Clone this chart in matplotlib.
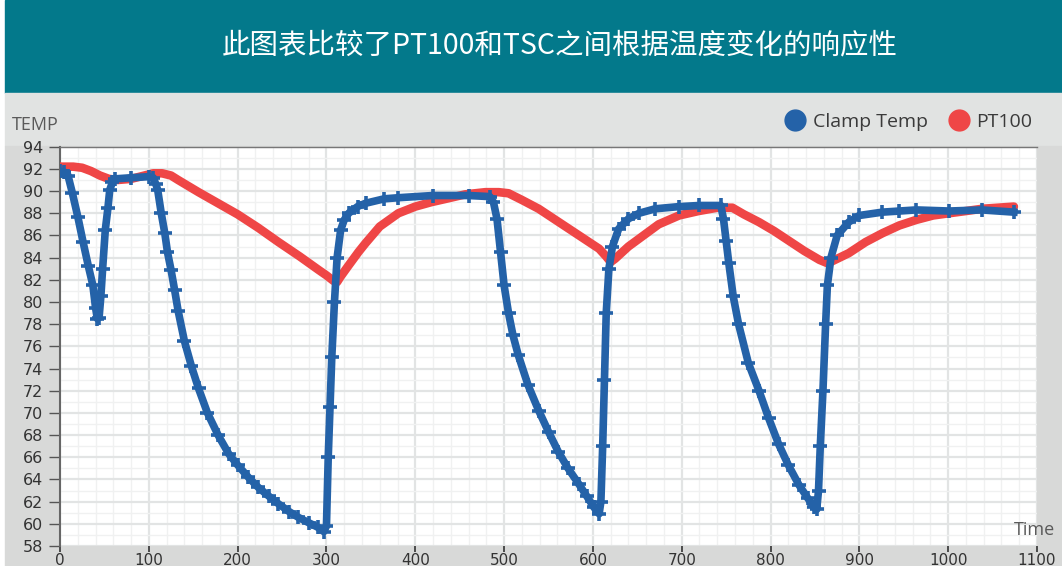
import matplotlib
matplotlib.use("Agg")
import matplotlib.pyplot as plt
from matplotlib.patches import Rectangle
from matplotlib.lines import Line2D
import matplotlib.ticker as ticker

# Clamp Temp (TSC) readings
clamp_t = [0, 5, 9, 14, 20, 26, 32, 37, 40, 42, 44, 46, 48, 51, 54, 56, 59, 62, 80, 100,
           105, 108, 110, 114, 118, 121, 125, 129, 133, 140, 148, 156, 166, 178, 190, 200,
           212, 223, 235, 246, 258, 268, 280, 290, 297, 300, 302, 304, 306, 309, 312, 316,
           320, 325, 335, 344, 365, 381, 420, 460, 484, 488, 492, 496, 500, 505, 510, 516,
           527, 539, 550, 561, 572, 584, 593, 601, 607, 609, 611, 613, 615, 618, 622, 629,
           640, 652, 670, 697, 720, 744, 747, 750, 753, 758, 764, 775, 787, 798, 809, 820,
           832, 842, 849, 852, 854, 856, 859, 862, 864, 868, 875, 888, 900, 926, 945, 964,
           1001, 1038, 1074]
clamp_v = [91.8, 91.7, 91.4, 89.8, 87.7, 85.4, 83.2, 81.5, 79.5, 78.5, 78.6, 80.5, 83.0, 86.5,
           88.5, 90.1, 90.8, 91.1, 91.2, 91.3,
           91.2, 90.6, 90.1, 88.0, 86.2, 84.5, 82.9, 81.1, 79.2, 76.5, 74.2, 72.2, 70.0, 68.0,
           66.3, 65.3, 64.2, 63.3, 62.5, 61.8, 61.1, 60.6, 60.1, 59.7, 59.3, 59.8, 66.0, 70.5,
           75.0, 80.0, 84.0, 86.5, 87.4, 88.0, 88.6, 88.9, 89.3, 89.4, 89.6, 89.6, 89.5, 89.0,
           87.5, 84.5, 81.5, 79.0, 77.0, 75.2, 72.5, 70.2, 68.3, 66.5, 65.0, 63.6, 62.5, 61.5,
           60.9, 62.0, 67.0, 73.0, 79.0, 83.0, 85.0, 86.6, 87.5, 88.0, 88.4, 88.6, 88.7, 88.7,
           87.5, 85.5, 83.5, 80.5, 78.0, 74.5, 72.0, 69.5, 67.2, 65.3, 63.5, 62.3, 61.5, 61.3,
           63.0, 67.0, 72.0, 78.0, 81.5, 84.0, 86.0, 87.2, 87.8, 88.1, 88.2, 88.3, 88.2, 88.3,
           88.1]

# PT100 readings
pt_t = [0, 15, 25, 35, 45, 55, 65, 80, 95, 105, 115, 125, 133, 156, 178, 200, 223, 246, 270,
        291, 300, 308, 312, 316, 325, 336, 344, 360, 381, 400, 418, 440, 456, 479, 494, 505,
        520, 539, 556, 573, 590, 607, 615, 620, 625, 640, 657, 674, 697, 719, 740, 757, 770,
        787, 804, 821, 838, 855, 864, 870, 888, 907, 926, 945, 964, 983, 1001, 1020, 1038,
        1056, 1074]
pt_v = [92.2, 92.2, 92.1, 91.8, 91.4, 91.1, 91.0, 91.1, 91.4, 91.6, 91.6, 91.4, 91.0, 89.9,
        88.9, 87.9, 86.7, 85.4, 84.1, 82.9, 82.4, 81.9, 81.8, 82.3, 83.3, 84.5, 85.3, 86.8,
        88.0, 88.6, 89.0, 89.4, 89.7, 89.9, 89.9, 89.8, 89.2, 88.4, 87.5, 86.6, 85.7, 84.8,
        84.1, 83.6, 83.9, 85.0, 86.0, 87.0, 87.8, 88.2, 88.5, 88.5, 87.9, 87.2, 86.4, 85.5,
        84.6, 83.8, 83.5, 83.7, 84.4, 85.4, 86.2, 86.9, 87.4, 87.8, 88.0, 88.2, 88.4, 88.5,
        88.6]

title = "此图表比较了PT100和TSC之间根据温度变化的响应性"
blue = "#2462a8"
red = "#ef4646"

W, H = 1062, 566
fig = plt.figure(figsize=(W / 100, H / 100), dpi=100)
fig.patch.set_facecolor("white")

def px_rect(x0, y0, x1, y1, color):
    fig.patches.append(Rectangle((x0 / W, 1 - y1 / H), (x1 - x0) / W, (y1 - y0) / H,
                                 transform=fig.transFigure, color=color, zorder=-5))

px_rect(5, 0, W, 93, "#03798b")
px_rect(5, 93, W, 146, "#e1e3e2")
px_rect(5, 146, W, H, "#d8d9d8")

fig.text(560 / W, 1 - 45 / H, title, color="white", fontsize=20.5,
         family=["Noto Sans CJK SC", "DejaVu Sans"], ha="center", va="center")

ax = fig.add_axes([60 / W, (H - 546) / H, (1037 - 60) / W, (546 - 146.7) / H])
ax.set_zorder(2)
ax.set_facecolor("white")

ax.plot(pt_t, pt_v, color=red, lw=6.2, solid_capstyle="round", solid_joinstyle="round", zorder=3)
ax.plot(clamp_t, clamp_v, color=blue, lw=5.5, marker="+", ms=10, mew=2.6,
        solid_joinstyle="round", zorder=4)

ax.set_xlim(0, 1100)
ax.set_ylim(58, 94)
ax.xaxis.set_major_locator(ticker.MultipleLocator(100))
ax.xaxis.set_minor_locator(ticker.MultipleLocator(20))
ax.yaxis.set_major_locator(ticker.MultipleLocator(2))
ax.yaxis.set_minor_locator(ticker.MultipleLocator(1))
ax.grid(which="major", color="#e2e4e4", lw=1.6)
ax.grid(which="minor", color="#f0f1f1", lw=1)
ax.set_axisbelow(True)

for s in ["right", "bottom"]:
    ax.spines[s].set_visible(False)
ax.spines["left"].set_color("#666666")
ax.spines["left"].set_linewidth(1.5)
ax.spines["top"].set_color("#777777")
ax.spines["top"].set_linewidth(1)

ax.tick_params(axis="y", which="major", length=8, width=1, color="#555555", pad=4,
               labelsize=11.5, labelcolor="#333333")
ax.tick_params(axis="x", which="major", length=4, width=1.2, color="#333333", pad=1,
               labelsize=11, labelcolor="#333333")
ax.tick_params(which="minor", length=0)

fig.text(12 / W, 1 - 125 / H, "TEMP", fontsize=13, color="#5a5a5a", family="Open Sans",
         va="center", ha="left")
fig.text(1055 / W, 1 - 530 / H, "Time", fontsize=13, color="#5a5a5a", family="Open Sans",
         va="center", ha="right", zorder=5)

handles = [Line2D([], [], ls="", marker="o", ms=15, color=blue),
           Line2D([], [], ls="", marker="o", ms=15, color=red)]
fig.legend(handles, ["Clamp Temp", "PT100"], loc="center right",
           bbox_to_anchor=(1040 / W, 1 - 122 / H), ncol=2, frameon=False,
           prop={"family": "Open Sans", "size": 14}, handletextpad=-0.1,
           columnspacing=0.6, labelcolor="#3a3a3a", borderaxespad=0)

fig.savefig("out.png", dpi=100)
